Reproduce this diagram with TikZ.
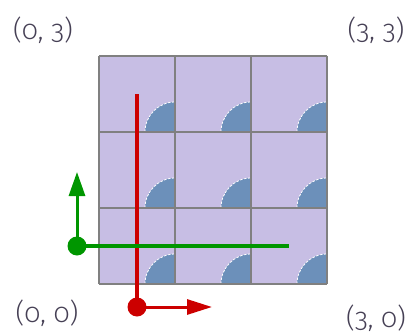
\documentclass[tikz,border=0pt]{standalone}
\usepackage{fontspec}
\setmainfont[Numbers=OldStyle]{Fira Sans Light}
\usetikzlibrary{arrows.meta}
\definecolor{cellfill}{RGB}{199,190,228}
\definecolor{quarter}{RGB}{108,144,186}
\definecolor{gridgray}{RGB}{128,128,128}
\definecolor{myred}{RGB}{204,0,0}
\definecolor{mygreen}{RGB}{0,150,0}
\definecolor{labelgray}{RGB}{70,64,85}
\tikzset{
  lbl/.style={font=\fontsize{27}{30}\selectfont, text=labelgray, inner sep=0pt},
  axis/.style={line width=4pt},
  tipred/.style={-{Triangle[length=25pt,width=15pt]}, line width=3pt, myred},
  tipgreen/.style={-{Triangle[length=24pt,width=16pt]}, line width=3pt, mygreen},
}
\begin{document}
\begin{tikzpicture}[x=1pt,y=-1pt]
\useasboundingbox (0,0) rectangle (411,331);
% cells
\fill[cellfill] (99,56) rectangle (327,284);
\foreach \i in {0,1,2}{
  \foreach \j in {0,1,2}{
    \pgfmathsetmacro{\cx}{175+76*\i}
    \pgfmathsetmacro{\cy}{132+76*\j}
    \fill[quarter] (\cx,\cy) -- (\cx-30,\cy) arc[start angle=180,end angle=270,radius=30] -- cycle;
    \draw[white, line width=0.8pt, dash pattern=on 2.5pt off 1.5pt] (\cx-30,\cy) arc[start angle=180,end angle=270,radius=30];
  }
}
\foreach \k in {0,1,2,3}{
  \draw[gridgray, line width=1.5pt] (99+76*\k,56) -- (99+76*\k,284);
  \draw[gridgray, line width=1.5pt] (99,56+76*\k) -- (327,56+76*\k);
}
% labels
\node[lbl] (l03) at (43,30) {(0, 3)};
\node[lbl] (l33) at (376,30) {(3, 3)};
\node[lbl] (l00) at (47,313) {(0, 0)};
\node[lbl] (l30) at (376,318) {(3, 0)};
% red frame
\coordinate (rorig) at (137,307);
\coordinate (rtop) at (137,94);
\coordinate (rx) at (212,307);
\draw[axis, myred] (rorig) -- (rtop);
\draw[tipred] (rorig) -- (rx);
\fill[myred] (rorig) circle[radius=9.5];
% green frame
\coordinate (gorig) at (77,246);
\coordinate (gright) at (289,246);
\coordinate (gy) at (77,172);
\draw[axis, mygreen] (gorig) -- (gright);
\draw[tipgreen] (gorig) -- (gy);
\fill[mygreen] (gorig) circle[radius=9.5];
\end{tikzpicture}
\end{document}
